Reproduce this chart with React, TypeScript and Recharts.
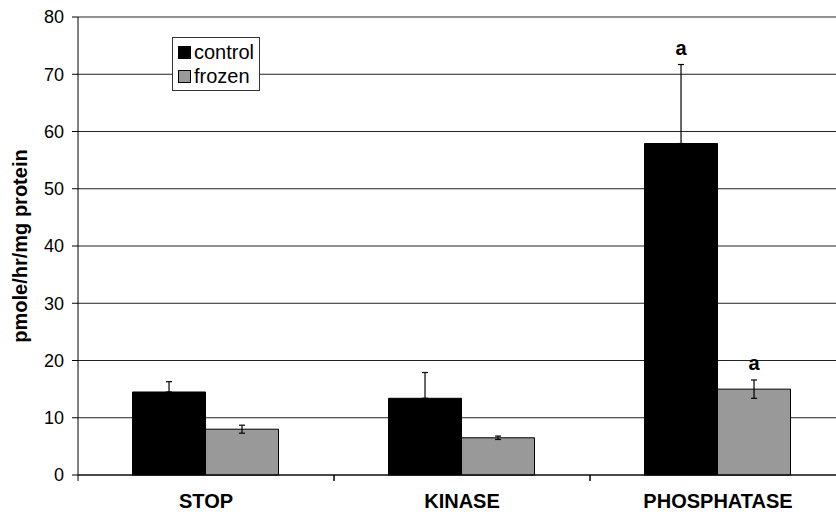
import { BarChart, Bar, XAxis, YAxis, CartesianGrid, Legend, ErrorBar, LabelList } from "recharts"

// Data
const categories = ["STOP", "KINASE", "PHOSPHATASE"]
const control = [14.5, 13.4, 57.9]
const controlErr = [1.8, 4.5, 13.8]
const frozen = [8.0, 6.5, 15.0]
const frozenErr = [0.7, 0.3, 1.6]
const controlNotes = ["", "", "a"]
const frozenNotes = ["", "", "a"]
const yTicks = [0, 10, 20, 30, 40, 50, 60, 70, 80]

const FONT = "'Liberation Sans', Arial, Helvetica, sans-serif"
const TICK_SIZE = 6
const TICK_MARGIN = 13

const data = categories.map((name, i) => ({
  name,
  control: control[i],
  // control error bars only go upwards
  controlErr: [0, controlErr[i]],
  frozen: frozen[i],
  frozenErr: frozenErr[i],
  controlNote: controlNotes[i],
  frozenNote: frozenNotes[i],
}))

// category label + tick marks at the category boundaries
function CategoryTick(props: any) {
  const { x, y, payload } = props
  const axisY = y - TICK_SIZE - TICK_MARGIN
  const half = payload.offset || 0
  return (
    <g>
      <line x1={x - half} x2={x - half} y1={axisY} y2={axisY + TICK_SIZE} stroke="#000" />
      <line x1={x + half} x2={x + half} y1={axisY} y2={axisY + TICK_SIZE} stroke="#000" />
      <text x={x} y={y} dy="0.71em" textAnchor="middle" fontFamily={FONT} fontSize={20} fontWeight="bold" fill="#000">
        {payload.value}
      </text>
    </g>
  )
}

// "a" marks sit above the top of the error bar
function noteLabel(errs: number[], upOnly: boolean) {
  return (props: any) => {
    const { x, y, width, height, value, index } = props
    if (!value) return null
    const v = upOnly ? control[index] : frozen[index]
    const pxPerUnit = height / v
    const top = y - errs[index] * pxPerUnit
    return (
      <text x={x + width / 2} y={top - 10} textAnchor="middle" fontFamily={FONT} fontSize={20} fontWeight="bold" fill="#000">
        {value}
      </text>
    )
  }
}

function LegendBox({ payload }: any) {
  return (
    <div
      style={{
        border: "1px solid #333",
        background: "#fff",
        padding: "2px 5px 2px 5px",
        fontFamily: FONT,
        fontSize: 20,
        lineHeight: "24px",
        color: "#000",
      }}
    >
      {(payload || []).map((p: any) => (
        <div key={p.value} style={{ display: "flex", alignItems: "center" }}>
          <span
            style={{
              display: "inline-block",
              width: 11,
              height: 11,
              border: "1px solid #000",
              background: p.payload?.fill || p.color,
              marginRight: 3,
            }}
          />
          {p.value}
        </div>
      ))}
    </div>
  )
}

export default function App() {
  return (
    <div style={{ position: "fixed", left: 0, top: 0, width: 836, height: 512, overflow: "hidden", background: "#fff" }}>
      <BarChart
        width={860}
        height={512}
        data={data}
        margin={{ top: 17, right: 14, left: 0, bottom: 7 }}
        barCategoryGap="21.3%"
        barGap={0}
      >
        <CartesianGrid vertical={false} stroke="#222" />
        <XAxis
          dataKey="name"
          height={30}
          axisLine={{ stroke: "#000" }}
          tickLine={false}
          tickSize={TICK_SIZE}
          tickMargin={TICK_MARGIN}
          tick={<CategoryTick />}
        />
        <YAxis
          width={78}
          domain={[0, 80]}
          ticks={yTicks}
          interval={0}
          axisLine={{ stroke: "#000" }}
          tickLine={{ stroke: "#000" }}
          tickSize={TICK_SIZE}
          tickMargin={8}
          tick={{ fill: "#000", fontSize: 18, fontFamily: FONT }}
          label={{
            value: "pmole/hr/mg protein",
            angle: -90,
            position: "center",
            dx: -19,
            style: { fontFamily: FONT, fontSize: 20, fontWeight: "bold", fill: "#000" },
          }}
        />
        <Legend
          layout="vertical"
          align="center"
          verticalAlign="middle"
          wrapperStyle={{ position: "absolute", left: 172, top: 37, width: "auto" }}
          content={<LegendBox />}
        />
        <Bar dataKey="control" name="control" fill="#000" stroke="#000" isAnimationActive={false}>
          <ErrorBar dataKey="controlErr" width={3} stroke="#000" strokeWidth={1.2} />
          <LabelList dataKey="controlNote" content={noteLabel(controlErr, true)} />
        </Bar>
        <Bar dataKey="frozen" name="frozen" fill="#999" stroke="#000" isAnimationActive={false}>
          <ErrorBar dataKey="frozenErr" width={3} stroke="#000" strokeWidth={1.2} />
          <LabelList dataKey="frozenNote" content={noteLabel(frozenErr, false)} />
        </Bar>
      </BarChart>
    </div>
  )
}
